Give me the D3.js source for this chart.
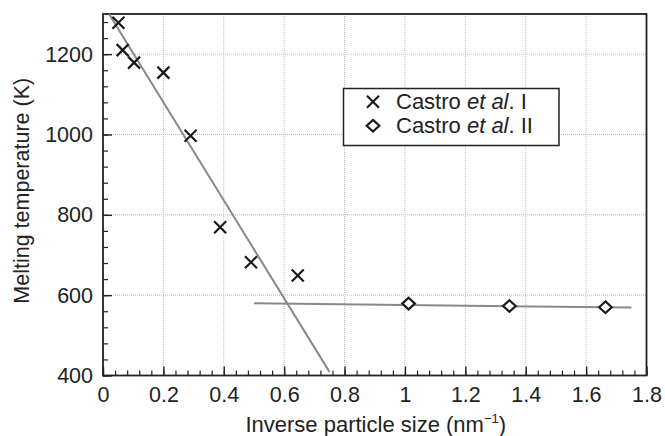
<!DOCTYPE html>
<html><head><meta charset="utf-8">
<script src="https://cdn.jsdelivr.net/npm/d3@7"></script>
<style>
html,body{margin:0;padding:0;background:#fff;}
svg text{font-family:"Liberation Sans",Arial,Helvetica,sans-serif;fill:#222;}
</style></head>
<body><svg id="c" width="665" height="436"></svg>
<script>
const castroIx = [0.051, 0.065, 0.103, 0.200, 0.290, 0.388, 0.490, 0.645];
const castroIy = [1278, 1210, 1179, 1154, 997, 769, 682, 649];
const castroIIx = [1.012, 1.346, 1.664];
const castroIIy = [579, 573, 570];
const fit1x = [0.02, 0.75];
const fit1y = [1300, 409];
const fit2x = [0.50, 1.75];
const fit2y = [580, 569];
const xTicks = [0, 0.2, 0.4, 0.6, 0.8, 1, 1.2, 1.4, 1.6, 1.8];
const yTicks = [400, 600, 800, 1000, 1200];
const legendLabels = [["Castro ", "et al", ". I"], ["Castro ", "et al", ". II"]];

const svg = d3.select("#c");
const L = 103, R = 646.5, T = 14, B = 375.5;
const x = d3.scaleLinear().domain([0, 1.8]).range([L, R]);
const y = d3.scaleLinear().domain([400, 1300]).range([B, T]);
const FF = "Liberation Sans, Arial, sans-serif";

// grid
const g = svg.append("g");
g.selectAll(".gx").data(xTicks.filter(d => d > 0 && d < 1.8)).enter().append("line")
  .attr("x1", d => x(d)).attr("x2", d => x(d)).attr("y1", T).attr("y2", B)
  .attr("stroke", "#aaa").attr("stroke-width", 0.8).attr("stroke-dasharray", "1,1");
g.selectAll(".gy").data(yTicks.filter(d => d > 400)).enter().append("line")
  .attr("y1", d => y(d)).attr("y2", d => y(d)).attr("x1", L).attr("x2", R)
  .attr("stroke", "#aaa").attr("stroke-width", 0.8).attr("stroke-dasharray", "1,1");

// axes (ticks inward)
const xMinor = d3.range(0, 1.8001, 0.04);
const yMinor = d3.range(400, 1300.01, 40);
svg.append("g").attr("transform", `translate(0,${B})`)
  .call(d3.axisBottom(x).tickValues(xMinor).tickSize(-5).tickFormat(""))
  .call(a => a.select(".domain").remove())
  .call(a => a.selectAll("line").attr("stroke", "#222").attr("stroke-width", 1.2));
svg.append("g").attr("transform", `translate(0,${B})`)
  .call(d3.axisBottom(x).tickValues(xTicks).tickSize(-9).tickPadding(11).tickFormat(d3.format("")))
  .call(a => a.select(".domain").remove())
  .call(a => a.selectAll("line").attr("stroke", "#222").attr("stroke-width", 1.4))
  .call(a => a.selectAll("text").attr("font-size", 21.5).attr("fill", "#222").attr("font-family", FF));
svg.append("g").attr("transform", `translate(${L},0)`)
  .call(d3.axisLeft(y).tickValues(yMinor).tickSize(-5).tickFormat(""))
  .call(a => a.select(".domain").remove())
  .call(a => a.selectAll("line").attr("stroke", "#222").attr("stroke-width", 1.2));
svg.append("g").attr("transform", `translate(${L},0)`)
  .call(d3.axisLeft(y).tickValues(yTicks).tickSize(-9).tickPadding(10).tickFormat(d3.format("")))
  .call(a => a.select(".domain").remove())
  .call(a => a.selectAll("line").attr("stroke", "#222").attr("stroke-width", 1.4))
  .call(a => a.selectAll("text").attr("font-size", 21.5).attr("fill", "#222").attr("font-family", FF));

// frame
svg.append("rect").attr("x", L).attr("y", T).attr("width", R - L).attr("height", B - T)
  .attr("fill", "none").attr("stroke", "#222").attr("stroke-width", 1.8);

// fit lines
const line = d3.line().x(d => x(d[0])).y(d => y(d[1]));
svg.append("path").attr("d", line(d3.zip(fit1x, fit1y))).attr("stroke", "#888").attr("stroke-width", 2).attr("fill", "none");
svg.append("path").attr("d", line(d3.zip(fit2x, fit2y))).attr("stroke", "#888").attr("stroke-width", 2).attr("fill", "none");

// markers
const s = 6;
function cross(sel) {
  sel.append("path").attr("d", `M${-s},${-s}L${s},${s}M${-s},${s}L${s},${-s}`)
    .attr("stroke", "#1a1a1a").attr("stroke-width", 2.2).attr("fill", "none");
}
function diamond(sel) {
  sel.append("path").attr("d", `M0,-5.8L6.3,0L0,5.8L-6.3,0Z`)
    .attr("stroke", "#1a1a1a").attr("stroke-width", 2.2).attr("fill", "#fff");
}
svg.selectAll(".p1").data(d3.zip(castroIx, castroIy)).enter().append("g")
  .attr("transform", d => `translate(${x(d[0])},${y(d[1])})`).call(cross);
svg.selectAll(".p2").data(d3.zip(castroIIx, castroIIy)).enter().append("g")
  .attr("transform", d => `translate(${x(d[0])},${y(d[1])})`).call(diamond);

// legend
const lg = svg.append("g");
lg.append("rect").attr("x", 343.5).attr("y", 88.5).attr("width", 215.5).attr("height", 57)
  .attr("fill", "#fff").attr("stroke", "#222").attr("stroke-width", 1.5);
const rowsY = [101.7, 125.7];
lg.append("g").attr("transform", `translate(373,${rowsY[0]})`).call(cross);
lg.append("g").attr("transform", `translate(373,${rowsY[1]})`).call(diamond);
legendLabels.forEach((parts, i) => {
  const t = lg.append("text").attr("x", 396).attr("y", rowsY[i]).attr("dy", "0.35em").attr("font-size", 22);
  t.append("tspan").text(parts[0]);
  t.append("tspan").attr("font-style", "italic").text(parts[1]);
  t.append("tspan").text(parts[2]);
});

// axis titles
const xt = svg.append("text").attr("x", (L + R) / 2 + 1).attr("y", 432).attr("text-anchor", "middle").attr("font-size", 22);
xt.append("tspan").text("Inverse particle size (nm");
xt.append("tspan").attr("font-size", 13).attr("dy", -9).text("\u22121");
xt.append("tspan").attr("dy", 9).text(")");
svg.append("text").attr("transform", `translate(28.5,${(T + B) / 2 - 4}) rotate(-90)`)
  .attr("text-anchor", "middle").attr("font-size", 21.5).text("Melting temperature (K)");
</script></body></html>
